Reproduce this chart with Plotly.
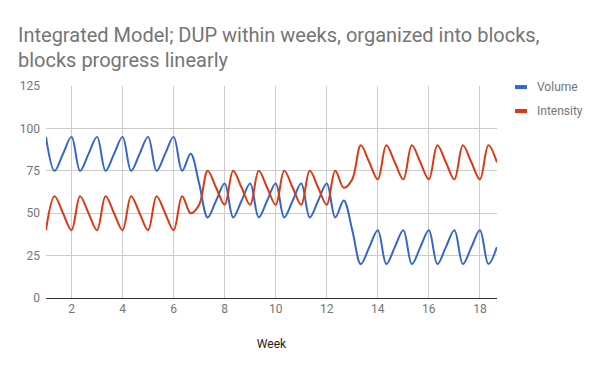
import plotly.graph_objects as go

# ---- data ----
weeks = list(range(1, 19))
sessions_per_week = 3
week_pos = [w + s / sessions_per_week for w in weeks for s in range(sessions_per_week)]

volume = [
    95, 75, 85, 95, 75, 85, 95, 75, 85, 95, 75, 85, 95, 75, 85, 95, 75, 85,
    67.5, 47.5, 57.5, 67.5, 47.5, 57.5, 67.5, 47.5, 57.5, 67.5, 47.5, 57.5, 67.5, 47.5, 57.5, 67.5, 47.5, 57.5,
    40, 20, 30, 40, 20, 30, 40, 20, 30, 40, 20, 30, 40, 20, 30, 40, 20, 30,
]
intensity = [
    40, 60, 50, 40, 60, 50, 40, 60, 50, 40, 60, 50, 40, 60, 50, 40, 60, 50,
    55, 75, 65, 55, 75, 65, 55, 75, 65, 55, 75, 65, 55, 75, 65, 55, 75, 65,
    70, 90, 80, 70, 90, 80, 70, 90, 80, 70, 90, 80, 70, 90, 80, 70, 90, 80,
]
series_names = ["Volume", "Intensity"]
series_colors = ["#3366cc", "#dc3912"]
x_ticks = [2, 4, 6, 8, 10, 12, 14, 16, 18]
y_ticks = [0, 25, 50, 75, 100, 125]
title_line1 = "Integrated Model; DUP within weeks, organized into blocks,"
title_line2 = "blocks progress linearly"

FONT = "Roboto, Arial, sans-serif"
GRAY = "#757575"

fig = go.Figure()
for name, vals, col in zip(series_names, [volume, intensity], series_colors):
    fig.add_trace(go.Scatter(
        x=week_pos, y=vals, name=name, mode="lines",
        line=dict(color=col, width=2, shape="spline", smoothing=1),
        showlegend=False,
    ))

# custom legend (Google-Sheets style short bars)
legend_y = [0.995, 0.882]
for name, col, yc in zip(series_names, series_colors, legend_y):
    fig.add_shape(type="line", xref="paper", yref="paper",
                  x0=1.040, x1=1.0665, y0=yc, y1=yc,
                  line=dict(color=col, width=4))
    fig.add_annotation(x=1.084, y=yc, xref="paper", yref="paper",
                       text=name, showarrow=False, xanchor="left", yanchor="middle",
                       font=dict(family=FONT, size=12, color=GRAY))

# second title line
fig.add_annotation(x=-0.0665, y=1.122, xref="paper", yref="paper",
                   text=title_line2, showarrow=False, xanchor="left", yanchor="middle",
                   font=dict(family=FONT, size=20, color=GRAY))

fig.update_layout(
    width=592, height=363,
    margin=dict(l=38, r=103, t=78, b=73),
    paper_bgcolor="white", plot_bgcolor="white",
    title=dict(text=title_line1, x=10 / 592, xanchor="left", xref="container",
               y=1 - 27 / 363, yanchor="middle", yref="container",
               font=dict(family=FONT, size=20, color=GRAY)),
    font=dict(family=FONT, size=12, color=GRAY),
    xaxis=dict(range=[1, 18.67], tickvals=x_ticks, ticktext=[str(t) for t in x_ticks],
               showgrid=True, gridcolor="#cccccc", gridwidth=1,
               showline=True, linecolor="#333333", linewidth=1,
               zeroline=False, ticks="",
               tickfont=dict(family=FONT, size=12, color=GRAY),
               title=dict(text="Week", standoff=24,
                          font=dict(family=FONT, size=12, color="#222222"))),
    yaxis=dict(range=[0, 125], tickvals=y_ticks, ticktext=[str(t) for t in y_ticks],
               showgrid=True, gridcolor="#cccccc", gridwidth=1,
               zeroline=False, ticks="", showline=False, ticklabelstandoff=5,
               tickfont=dict(family=FONT, size=12, color=GRAY)),
)

fig.write_html("out.html")
